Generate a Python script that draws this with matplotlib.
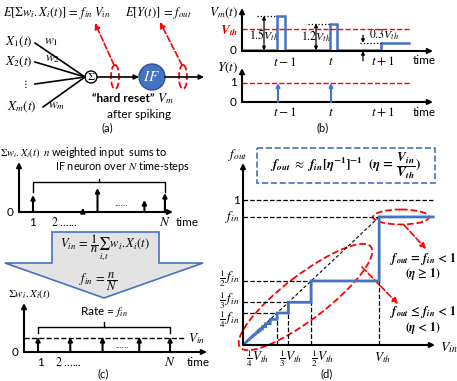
import matplotlib
matplotlib.use("Agg")
import matplotlib.pyplot as plt
from matplotlib.patches import Circle, Ellipse, Rectangle, Polygon

plt.rcParams['font.family'] = ['Lato', 'DejaVu Sans']
plt.rcParams['mathtext.fontset'] = 'stix'

# ---------------- data ----------------
# (b) membrane potential (units of V_th), time in steps (t-1 = 1, t = 2, t+1 = 3)
vm_baseline = 0.03
pulse_start = [0.90, 1.96]
pulse_end = [1.06, 2.10]
pulse_height = [1.6, 1.25]
residual_start = 2.98
residual_end = 3.54
residual_height = 0.37
v_threshold = 1.0
time_tick_pos = [1.06, 1.98, 3.02]
time_tick_labels = ['$t-1$', '$t$', '$t+1$']
out_spike_times = [0.92, 1.98]
out_spike_height = 1.0

# (c) top: irregular weighted input sums over N time-steps
in_times = [1, 4.4, 5.4, 8.6, 10]
in_heights = [17, 4, 24, 12, 19]
# (c) bottom: uniform rate input
rate_times = [1, 3.2, 5.4, 7.9, 10]
rate_height = 15
v_in_level = 14

# (d) transfer function (V_in in units of V_th)
f_in = 0.883
step_denoms = [1, 2, 3, 4, 5, 6, 7, 8, 9, 10, 12, 14, 16, 20, 25, 32, 40]
guide_denoms = [2, 3, 4]
vin_max = 1.397

BLUE = '#4472C4'
RED = '#FF0000'

W, H = 457, 381
fig = plt.figure(figsize=(W / 100, H / 100), dpi=100)

ov = fig.add_axes([0, 0, 1, 1])
ov.set_xlim(0, W)
ov.set_ylim(H, 0)
ov.set_axis_off()


def pax(x0, y0, x1, y1):
    a = fig.add_axes([x0 / W, 1 - y1 / H, (x1 - x0) / W, (y1 - y0) / H])
    a.set_axis_off()
    a.patch.set_alpha(0)
    return a


def axis_arrows(a, lw=1.5):
    for xy in [(1, 0), (0, 1)]:
        a.annotate('', xy=xy, xytext=(0, 0), xycoords='axes fraction',
                   arrowprops=dict(arrowstyle='-|>', color='k', lw=lw,
                                   mutation_scale=7, shrinkA=0, shrinkB=0))


def spike(a, x, h, color='k', lw=1.5, ms=6):
    a.annotate('', xy=(x, h), xytext=(x, 0),
               arrowprops=dict(arrowstyle='-|>', color=color, lw=lw,
                               mutation_scale=ms, shrinkA=0, shrinkB=0))


def T(x, y, s, size=9, ha='center', va='center', **kw):
    ov.text(x, y, s, fontsize=size, ha=ha, va=va, **kw)


def red_arrow(p_to, p_from):
    ov.annotate('', xy=p_to, xytext=p_from,
                arrowprops=dict(arrowstyle='-|>', color=RED, lw=1.2, ls='--',
                                mutation_scale=8, shrinkA=0, shrinkB=0))


MS = 9.5   # math size
TS = 8.5   # regular text size

# ---------------- (a) schematic ----------------
T(3, 13, r'$E[\Sigma w_i.X_i(t)]\,=\,f_{in}\;V_{in}$', 9, ha='left')
T(158, 13, r'$E[Y(t)]\,=\,f_{out}$', 9)
T(19, 42, r'$X_1(t)$', MS)
T(19, 62, r'$X_2(t)$', MS)
T(22, 107, r'$X_m(t)$', MS)
T(25, 84, r'$\vdots$', 8)
for yy, x0 in zip([43, 62, 84, 107], [35, 35, 35, 43]):
    ov.plot([x0, 85], [yy, 77], color='k', lw=1.2)
T(51, 42, r'$w_1$', MS)
T(53, 59, r'$w_2$', MS)
T(57, 106, r'$w_m$', MS)
ov.add_patch(Circle((91, 77), 6, fc='white', ec='k', lw=1))
T(91, 77, r'$\mathit{\Sigma}$', 8)
ov.annotate('', xy=(139, 77), xytext=(97, 77),
            arrowprops=dict(arrowstyle='-|>', color='k', lw=1.2, mutation_scale=7,
                            shrinkA=0, shrinkB=0))
ov.add_patch(Circle((152, 77), 13, fc=BLUE, ec='#2F528F', lw=1))
T(152, 77, r'$IF$', 11, color='white')
ov.annotate('', xy=(204, 77), xytext=(165, 77),
            arrowprops=dict(arrowstyle='-|>', color='k', lw=1.2, mutation_scale=7,
                            shrinkA=0, shrinkB=0))
for cx, tx, ty in [(115, 95, 23), (183, 160, 22)]:
    ov.add_patch(Ellipse((cx, 77), 8, 24, fc='none', ec=RED, lw=1.3, ls='--'))
    red_arrow((tx, ty), (cx - 1, 65))
T(154, 99, '“hard reset”', TS, ha='right', fontweight='bold')
T(157, 99, r'$V_m$', MS, ha='left')
T(139, 114, 'after spiking', TS)
T(107, 128, '(a)', 8)

# ---------------- (b) top ----------------
bt = pax(242, 8, 433, 51)
bt.set_xlim(0.2, 4.02)
bt.set_ylim(0, 1.955)
axis_arrows(bt)
xs = [0.2]
ys = [vm_baseline]
for s, e, h in zip(pulse_start, pulse_end, pulse_height):
    xs += [s, s, e, e]
    ys += [vm_baseline, h, h, vm_baseline]
xs += [residual_start, residual_start, residual_end]
ys += [vm_baseline, residual_height, residual_height]
bt.plot(xs, ys, color=BLUE, lw=1.8, solid_joinstyle='miter')
bt.plot([0.2, 3.56], [v_threshold, v_threshold], color=RED, lw=1, ls='--')
for x0, xa, s, h in [(0.5, 0.64, pulse_start[0], pulse_height[0]),
                     (1.52, 1.68, pulse_start[1], pulse_height[1])]:
    bt.plot([x0, s], [h, h], color='k', lw=0.9, ls=':')
    bt.annotate('', xy=(xa, h), xytext=(xa, vm_baseline),
                arrowprops=dict(arrowstyle='<|-|>', color='k', lw=0.9,
                                mutation_scale=5, shrinkA=0, shrinkB=0))
bt.plot([2.56, residual_start], [residual_height, residual_height], color='k', lw=0.9, ls=':')
bt.annotate('', xy=(2.62, residual_height), xytext=(2.62, 0.72),
            arrowprops=dict(arrowstyle='-|>', color='k', lw=0.9, mutation_scale=5,
                            shrinkA=0, shrinkB=0))
bt.annotate('', xy=(2.62, 0.0), xytext=(2.62, -0.45),
            arrowprops=dict(arrowstyle='-|>', color='k', lw=0.9, mutation_scale=5,
                            shrinkA=0, shrinkB=0), annotation_clip=False)
T(264, 35, r'$1.5V_{th}$', 8.5)
T(316, 37, r'$1.2V_{th}$', 8.5)
T(369, 35, r'$0.3V_{th}$', 8.5, ha='left')
T(238, 13, r'$V_m(t)$', MS, ha='right')
T(238, 31, r'$\mathbfit{V_{th}}$', MS, ha='right', color='#E00000')
T(237, 51, '0', TS, ha='right')
for p, lab in zip(time_tick_pos, time_tick_labels):
    px = 242 + (p - 0.2) / (4.02 - 0.2) * 191
    T(px, 61, lab, MS)
    T(px, 112, lab, MS)
T(424, 61, 'time', TS)

# ---------------- (b) bottom ----------------
bb = pax(242, 68, 433, 102)
bb.set_xlim(0.2, 4.02)
bb.set_ylim(0, 1.79)
axis_arrows(bb)
bb.plot([0.2, 3.56], [out_spike_height, out_spike_height], color=RED, lw=1, ls='--')
for tt in out_spike_times:
    spike(bb, tt, out_spike_height, color=BLUE, lw=1.5, ms=5)
T(238, 68, r'$Y(t)$', MS, ha='right')
T(237, 83, '1', TS, ha='right')
T(237, 102, '0', TS, ha='right')
T(424, 112, 'time', TS)
T(323, 128, '(b)', 8)

# ---------------- (c) top ----------------
ct = pax(19, 162, 173, 212)
ct.set_xlim(0.045, 10.55)
ct.set_ylim(0, 50)
axis_arrows(ct)
for tt, hh in zip(in_times, in_heights):
    spike(ct, tt, hh)
mid = (in_times[0] + in_times[-1]) / 2
ct.plot([in_times[0], in_times[0], in_times[-1], in_times[-1]], [20, 30, 30, 20], color='k', lw=1)
ct.plot([mid, mid], [30, 33], color='k', lw=1)
T(0, 153, r'$\Sigma w_i.X_i(t)$', 7.5, ha='left')
T(43, 152, r'$n$ weighted input  sums to', 7.8, ha='left')
T(55, 166.5, r'IF neuron over $N$ time-steps', 7.8, ha='left')
T(10, 212, '0', TS)
T(33, 222, '1', TS)
T(51, 222, r'$2$ ......', TS, ha='left')
T(165, 222, r'$N$', MS)
T(187, 222, 'time', TS)
T(121, 203, '......', 7)

# big arrow shape
ov.add_patch(Polygon([(52, 232), (159, 232), (159, 263), (203, 263), (104, 298),
                      (5, 263), (52, 263)], closed=True, fc='#E3E3E3', ec=BLUE, lw=1.2))
T(105, 248, r'$V_{in}\,=\,\dfrac{1}{n}\sum_{i,t}\,w_i.X_i(t)$', 9)
T(99, 282, r'$f_{in}\,=\,\dfrac{n}{N}$', 9)

# ---------------- (c) bottom ----------------
cb = pax(24, 303, 207, 352)
cb.set_xlim(0.045, 12.52)
cb.set_ylim(0, 49)
axis_arrows(cb)
cb.plot([0.07, 11.02], [v_in_level, v_in_level], color='k', lw=1, ls='--')
for tt in rate_times:
    spike(cb, tt, rate_height)
mid = (rate_times[0] + rate_times[-1]) / 2
cb.plot([rate_times[0], rate_times[0], rate_times[-1], rate_times[-1]], [19, 25, 25, 19], color='k', lw=1)
cb.plot([mid, mid], [25, 30], color='k', lw=1)
T(29, 294, r'$\Sigma w_i.X_i(t)$', 8)
T(104, 312, r'Rate = $f_{in}$', TS)
T(197, 339, r'$V_{in}$', MS)
T(122, 346, '......', 7)
T(15, 352, '0', TS)
T(40, 362, '1', TS)
T(55, 362, r'$2$ ......', TS, ha='left')
T(170, 362, r'$N$', MS)
T(198, 362, 'time', TS)
T(103, 374, '(c)', 8)

# ---------------- (d) ----------------
d = pax(243, 163, 435, 345)
d.set_xlim(0, 1.41)
d.set_ylim(0, 1.255)
axis_arrows(d)
d.plot([0, vin_max], [1, 1], color='k', lw=0.9, ls='--')
d.plot([0, 1], [f_in, f_in], color='k', lw=0.9, ls='--')
d.plot([1, 1], [0, f_in / 2], color='k', lw=0.9, ls='--')
for k in guide_denoms:
    d.plot([0, 1 / k], [f_in / k, f_in / k], color='k', lw=0.9, ls='--')
    d.plot([1 / k, 1 / k], [0, f_in / k], color='k', lw=0.9, ls='--')
d.plot([0, 1], [0, f_in], color='k', lw=0.8, ls=(0, (3, 2)))
sx = [vin_max, 1]
sy = [f_in, f_in]
for k in step_denoms[1:]:
    sx += [1 / (k - 1), 1 / k]
    sy += [f_in / k, f_in / k]
sx.append(0)
sy.append(0)
d.plot(sx, sy, color=BLUE, lw=2, solid_joinstyle='miter')

ov.add_patch(Rectangle((257, 148), 178, 35, fc='none', ec=BLUE, lw=1.2, ls='--'))
T(346, 166, r'$\mathbfit{f_{out}}\ \approx\ \mathbfit{f_{in}}\mathbf{[}\mathbfit{\eta}^{\mathbf{-1}}\mathbf{]}^{\mathbf{-1}}\ \ \mathbf{(}\mathbfit{\eta}\,\mathbf{=}\,\dfrac{\mathbfit{V_{in}}}{\mathbfit{V_{th}}}\mathbf{)}$', 9.5)
T(238, 155, r'$f_{out}$', MS)
T(240, 200, '1', TS, ha='right')
T(240, 217, r'$f_{in}$', MS, ha='right')
T(240, 279, r'$\frac{1}{2}\,f_{in}$', MS, ha='right')
T(240, 301, r'$\frac{1}{3}\,f_{in}$', MS, ha='right')
T(240, 320, r'$\frac{1}{4}\,f_{in}$', MS, ha='right')
T(258, 359, r'$\frac{1}{4}V_{th}$', MS)
T(291, 359, r'$\frac{1}{3}V_{th}$', MS)
T(323, 359, r'$\frac{1}{2}V_{th}$', MS)
T(383, 358, r'$V_{th}$', MS)
T(449, 348, r'$V_{in}$', 10)
T(327, 374, '(d)', 8)

ov.add_patch(Ellipse((401, 217), 56, 15, fc='none', ec=RED, lw=1.3, ls='--'))
ov.add_patch(Ellipse((305.5, 297), 165, 44, angle=-37.5, fc='none', ec=RED, lw=1.3, ls='--'))
red_arrow((426, 249), (404, 225))
red_arrow((398, 304), (362, 267))
T(423, 259, r'$\mathbfit{f_{out}}\,\mathbf{=}\,\mathbfit{f_{in}}\,\mathbf{<}\,\mathbf{1}$', 8.5)
T(423, 274, r'$\mathbf{(}\mathbfit{\eta}\,\mathbf{\geq}\,\mathbf{1)}$', 8.5)
T(423, 312, r'$\mathbfit{f_{out}}\,\mathbf{\leq}\,\mathbfit{f_{in}}\,\mathbf{<}\,\mathbf{1}$', 8.5)
T(423, 328, r'$\mathbf{(}\mathbfit{\eta}\,\mathbf{<}\,\mathbf{1)}$', 8.5)

fig.savefig('out.png', dpi=100)
